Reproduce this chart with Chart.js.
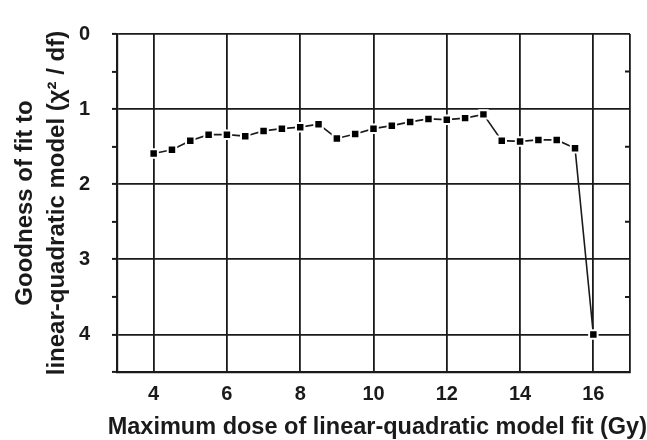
<!DOCTYPE html>
<html>
<head>
<meta charset="utf-8">
<script src="https://cdn.jsdelivr.net/npm/chart.js@4/dist/chart.umd.min.js"></script>
<style>
  html, body { margin: 0; padding: 0; background: #fff; }
  #wrap { width: 647px; height: 440px; }
</style>
</head>
<body>
<div id="wrap"><canvas id="c" width="647" height="440"></canvas></div>
<script>
// dose cut-off (Gy) vs chi-square/df of the LQ fit
const doses = [4, 4.5, 5, 5.5, 6, 6.5, 7, 7.5, 8, 8.5, 9, 9.5, 10, 10.5, 11, 11.5, 12, 12.5, 13, 13.5, 14, 14.5, 15, 15.5, 16];
const chiSq = [1.59, 1.54, 1.42, 1.34, 1.34, 1.36, 1.29, 1.26, 1.24, 1.20, 1.39, 1.33, 1.26, 1.22, 1.17, 1.13, 1.14, 1.12, 1.07, 1.42, 1.43, 1.41, 1.41, 1.52, 4.00];
const xTicks = [3, 4, 6, 8, 10, 12, 14, 16, 17];
const xLabels = [4, 6, 8, 10, 12, 14, 16];
const yMinor = [0.5, 1.5, 2.5, 3.5];

const INK = '#1a1a1a';
const FONT = "'Liberation Sans', Arial, sans-serif";

// short inward ticks on the right-hand frame
const rightTicks = {
  id: 'rightTicks',
  afterDraw(chart) {
    const { ctx, chartArea: a, scales: { y } } = chart;
    ctx.save();
    ctx.strokeStyle = INK;
    ctx.lineWidth = 2;
    ctx.beginPath();
    yMinor.forEach(v => {
      const py = y.getPixelForValue(v);
      ctx.moveTo(a.right - 5, py);
      ctx.lineTo(a.right, py);
    });
    ctx.stroke();
    ctx.restore();
  }
};

new Chart(document.getElementById('c'), {
  type: 'line',
  data: {
    datasets: [{
      data: doses.map((d, i) => ({ x: d, y: chiSq[i] })),
      borderColor: INK,
      borderWidth: 1.6,
      pointStyle: 'rect',
      pointRadius: 6,
      pointBackgroundColor: '#000',
      pointBorderColor: '#fff',
      pointBorderWidth: 2,
      tension: 0,
      fill: false
    }]
  },
  options: {
    responsive: false,
    animation: false,
    layout: { padding: { top: 16, right: 0, left: 0, bottom: 0 } },
    plugins: {
      legend: { display: false },
      tooltip: { enabled: false },
      // x-axis caption runs wider than the plot, so it sits in the chart title box
      title: {
        display: true, position: 'bottom', align: 'end', color: INK,
        padding: 0,
        text: 'Maximum dose of linear-quadratic model fit (Gy)',
        font: { family: FONT, size: 23.5, weight: 'bold', lineHeight: 1.02 }
      }
    },
    scales: {
      x: {
        type: 'linear', min: 3, max: 17,
        afterBuildTicks: s => { s.ticks = xTicks.map(v => ({ value: v })); },
        afterFit: s => { s.height = 44; },
        grid: { color: INK, lineWidth: 1.8, drawTicks: false },
        border: { display: true, color: INK, width: 2.2 },
        ticks: {
          padding: 10, color: INK,
          font: { family: FONT, size: 20, weight: 'bold' },
          callback: v => xLabels.includes(v) ? v : ''
        }
      },
      y: {
        reverse: true, min: 0, max: 4.5,
        afterFit: s => { s.width = 117; },
        grid: {
          color: c => Number.isInteger(c.tick.value) ? INK : 'rgba(0,0,0,0)',
          lineWidth: 1.8, tickColor: INK, tickWidth: 2, tickLength: 5
        },
        border: { display: true, color: INK, width: 2.2 },
        ticks: {
          stepSize: 0.5, padding: 22, color: INK,
          font: { family: FONT, size: 20, weight: 'bold' },
          callback: v => Number.isInteger(v) ? v : ''
        },
        title: {
          display: true, color: INK, padding: { top: 9, bottom: 0 },
          text: ['Goodness of fit to', 'linear-quadratic model (\u03C7\u00B2 / df)'],
          font: { family: FONT, size: 24, weight: 'bold', lineHeight: 1.33 }
        }
      },
      // empty right-hand strip, keeps the frame off the canvas edge
      yRight: {
        position: 'right', display: true,
        afterFit: s => { s.width = 17; },
        grid: { display: false },
        border: { display: false },
        ticks: { display: false }
      }
    }
  },
  plugins: [rightTicks]
});
</script>
</body>
</html>
